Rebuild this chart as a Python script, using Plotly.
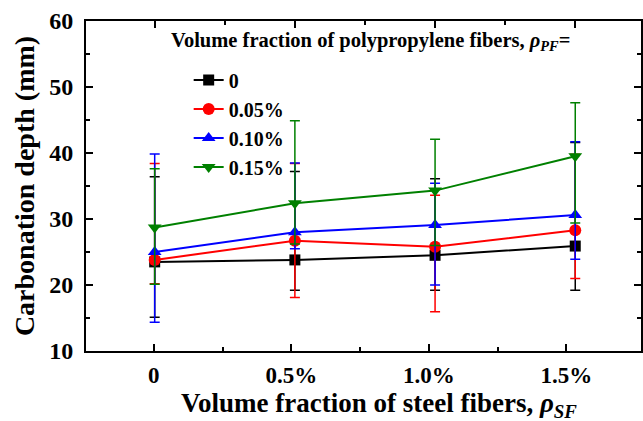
import plotly.graph_objects as go

# ---- data ----
x_labels = ["0", "0.5%", "1.0%", "1.5%"]
x_pos = [0, 1, 2, 3]
series_names = ["0", "0.05%", "0.10%", "0.15%"]

pf0_mean = [23.5, 23.8, 24.5, 25.9]
pf0_upper = [36.4, 37.2, 36.1, 41.6]
pf0_lower = [15.1, 19.2, 19.2, 19.2]

pf005_mean = [23.8, 26.7, 25.8, 28.3]
pf005_upper = [38.4, 38.4, 33.6, 39.8]
pf005_lower = [20.2, 18.1, 15.95, 21.0]

pf010_mean = [25.0, 28.0, 29.1, 30.6]
pf010_upper = [39.85, 38.5, 35.4, 41.7]
pf010_lower = [14.35, 25.5, 20.0, 23.9]

pf015_mean = [28.7, 32.4, 34.3, 39.5]
pf015_upper = [37.6, 44.9, 42.1, 47.6]
pf015_lower = [20.1, 26.2, 26.0, 29.4]

colors = ["#000000", "#ff0000", "#0000ff", "#008000"]
symbols = ["square", "circle", "triangle-up", "triangle-down"]
sizes = [11, 12, 12, 12]

means = [pf0_mean, pf005_mean, pf010_mean, pf015_mean]
uppers = [pf0_upper, pf005_upper, pf010_upper, pf015_upper]
lowers = [pf0_lower, pf005_lower, pf010_lower, pf015_lower]

FONT = "Liberation Serif"

fig = go.Figure()
# empty trace so the bottom axis (x) is part of a subplot and gets drawn
fig.add_trace(go.Scatter(x=[], y=[], xaxis="x", yaxis="y", showlegend=False, hoverinfo="skip"))

for name, m, up, lo, c, s, sz in zip(series_names, means, uppers, lowers, colors, symbols, sizes):
    fig.add_trace(go.Scatter(
        x=x_pos, y=m, name=name, xaxis="x2", yaxis="y",
        mode="lines+markers",
        line=dict(color=c, width=2),
        marker=dict(color=c, symbol=s, size=sz),
        error_y=dict(type="data", symmetric=False,
                     array=[u - v for u, v in zip(up, m)],
                     arrayminus=[v - l for v, l in zip(m, lo)],
                     color=c, thickness=1.5, width=5),
    ))

fig.update_layout(
    width=643, height=421,
    margin=dict(l=86, r=0, t=21, b=70),
    paper_bgcolor="white", plot_bgcolor="white",
    font=dict(family=FONT, color="black"),
    showlegend=True,
    legend=dict(
        font=dict(family=FONT, size=20, weight="bold", color="black"),
        x=0.185, y=0.88, xanchor="left", yanchor="top",
        bgcolor="rgba(0,0,0,0)",
        tracegroupgap=0,
    ),
    annotations=[
        dict(
            text="Volume fraction of polypropylene fibers, <i>ρ</i><sub><i>PF</i></sub>=",
            xref="paper", yref="paper", x=(169 - 86) / 557, y=(351 - 42) / 330,
            xanchor="left", yanchor="middle", showarrow=False,
            font=dict(family=FONT, size=20.5, weight="bold", color="black"),
        ),
        dict(
            text="Volume fraction of steel fibers, <i>ρ</i><sub><i>SF</i></sub>",
            xref="paper", yref="paper", x=(380 - 86) / 557, y=(351 - 405) / 330,
            xanchor="center", yanchor="middle", showarrow=False,
            font=dict(family=FONT, size=27, weight="bold", color="black"),
        ),
    ],
    xaxis=dict(
        range=[-0.493, 3.543], showgrid=False, zeroline=False,
        showline=True, linecolor="black", linewidth=2,
        tickmode="array", tickvals=x_pos, ticktext=x_labels,
        ticks="inside", ticklen=7, tickwidth=2, tickcolor="black",
        minor=dict(tickvals=[0.5, 1.5, 2.5], ticks="inside", ticklen=4, tickwidth=2, tickcolor="black"),
        tickfont=dict(family=FONT, size=23, weight="bold", color="black"),
        ticklabelstandoff=2,
        anchor="y",
    ),
    xaxis2=dict(
        range=[-0.49, 3.469], overlaying="x", side="top", anchor="y",
        showgrid=False, zeroline=False,
        showline=True, linecolor="black", linewidth=2,
        tickmode="array", tickvals=x_pos, showticklabels=False,
        ticks="inside", ticklen=7, tickwidth=2, tickcolor="black",
        minor=dict(tickvals=[0.5, 1.5, 2.5], ticks="inside", ticklen=4, tickwidth=2, tickcolor="black"),
    ),
    yaxis=dict(
        range=[10, 60], showgrid=False, zeroline=False,
        showline=True, linecolor="black", linewidth=2, mirror="ticks",
        tickmode="linear", tick0=10, dtick=10,
        ticks="inside", ticklen=7, tickwidth=2, tickcolor="black",
        minor=dict(dtick=5, ticks="inside", ticklen=4, tickwidth=2, tickcolor="black"),
        tickfont=dict(family=FONT, size=24, weight="bold", color="black"),
        ticklabelstandoff=6,
        title=dict(text="Carbonation depth (mm)",
                   font=dict(family=FONT, size=28, weight="bold", color="black"), standoff=6),
        anchor="x",
    ),
)

fig.write_html("out.html")
